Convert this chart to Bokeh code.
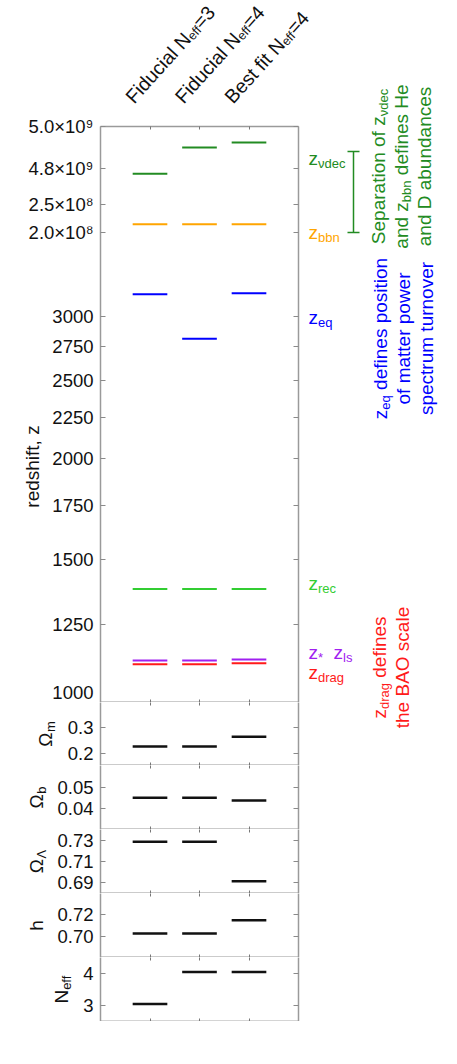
import numpy as np
from bokeh.plotting import figure
from bokeh.models import Range1d, LinearAxis, FixedTicker, Label, GridBox
from bokeh.layouts import column
from bokeh.embed import file_html
from bokeh.resources import INLINE

# ---------------- data ----------------
run_prefix = ["Fiducial N", "Fiducial N", "Best fit N"]
run_sub = ["eff", "eff", "eff"]
run_suffix = ["=3", "=4", "=4"]
x_run = [1, 2, 3]

z_nudec = [4.775e9, 4.90e9, 4.924e9]
z_bbn = [2.148e8, 2.148e8, 2.148e8]
z_eq = [3191, 2812, 3200]
z_rec = [1381, 1381, 1381]
z_star = [1127, 1127, 1130]
z_drag = [1115, 1115, 1118]

omega_m = [0.226, 0.226, 0.265]
omega_b = [0.0450, 0.0450, 0.0437]
omega_l = [0.729, 0.729, 0.6915]
h_vals = [0.7025, 0.7025, 0.715]
neff_vals = [3.046, 4.046, 4.046]

z_ticks = [1000, 1250, 1500, 1750, 2000, 2250, 2500, 2750, 3000, 2.0e8, 2.5e8, 4.8e9, 5.0e9]
z_tick_labels = ["1000", "1250", "1500", "1750", "2000", "2250", "2500", "2750", "3000",
                 "2.0×10⁸", "2.5×10⁸", "4.8×10⁹", "5.0×10⁹"]
om_ticks, om_labels = [0.2, 0.3], ["0.2", "0.3"]
ob_ticks, ob_labels = [0.04, 0.05], ["0.04", "0.05"]
ol_ticks, ol_labels = [0.69, 0.71, 0.73], ["0.69", "0.71", "0.73"]
h_ticks, h_labels = [0.70, 0.72], ["0.70", "0.72"]
n_ticks, n_labels = [3, 4], ["3", "4"]

# ---------------- scale of the broken redshift axis ----------------
DEC = 810.0
LOG_TOP = 3300.0
BREAK_Z = [3300.0, 2.0e8, 2.5e8, 4.7e9, 4.8e9, 5.0e9]
BREAK_P = [DEC * np.log10(3.3), 470.0, 498.0, 513.0, 534.0, 576.0]


def zpos(z):
    z = np.asarray(z, dtype=float)
    return np.where(z <= LOG_TOP, DEC * np.log10(np.minimum(z, LOG_TOP) / 1000.0),
                    np.interp(z, BREAK_Z, BREAK_P))


# ---------------- style ----------------
FONT = "Liberation Sans"
TICK_FS = "18.5px"
DKGREEN = "#228B22"
ORANGE = "#FFA500"
BLUE = "#0000FF"
LGREEN = "#32CD32"
PURPLE = "#A020F0"
RED = "#FF1A1A"
BLACK = "#111111"

FW = 198
LB = 100
RB = 8
XPX = FW / 4.0
FRAME_LEFT = LB
MAIN_TOP = 126
MAIN_H = 576
PANEL_H = [63, 64, 64, 64, 64]
PAGE_W, PAGE_H = 457, 1040

CW = {' ': 278, 'a': 556, 'b': 556, 'c': 500, 'd': 556, 'e': 556, 'f': 278, 'g': 556, 'h': 556,
      'i': 222, 'j': 222, 'k': 500, 'l': 222, 'm': 833, 'n': 556, 'o': 556, 'p': 556, 'q': 556,
      'r': 333, 's': 500, 't': 278, 'u': 556, 'v': 500, 'w': 722, 'x': 500, 'y': 500, 'z': 500,
      'A': 667, 'B': 667, 'C': 722, 'D': 722, 'E': 667, 'F': 611, 'H': 722, 'N': 722, 'O': 778,
      'S': 667, 'Ω': 768, 'Λ': 667, 'ν': 500, '*': 389, '=': 584, ',': 278, '.': 278}


def tw(s, size):
    return sum(CW.get(c, 556) for c in s) * size / 1000.0


def rich(p, segs, px, py, angle_deg, align, color):
    """Text made of pieces (for subscripts), placed in page pixel coordinates."""
    th = np.radians(angle_deg)
    d = np.array([np.cos(th), -np.sin(th)])
    up = np.array([-np.sin(th), -np.cos(th)])
    total = sum(tw(t, s) for t, s, r in segs)
    off = {"left": 0.0, "center": -total / 2.0, "right": -total}[align]
    for t, s, r in segs:
        lead = len(t) - len(t.lstrip(' '))
        off += lead * CW[' '] * s / 1000.0
        t2 = t.lstrip(' ')
        pt = np.array([px, py], dtype=float) + off * d + r * up
        p.add_layout(Label(x=float(pt[0]), y=float(pt[1]), text=t2, angle=float(th), angle_units="rad",
                           text_align="left", text_baseline="alphabetic",
                           text_font_size=f"{s}px", text_font=FONT, text_color=color))
        off += tw(t2, s)


def base_fig(ymin, ymax, fh, top_border=0):
    p = figure(frame_width=FW, frame_height=fh, x_range=Range1d(0, 4), y_range=Range1d(ymin, ymax),
               output_backend="svg", toolbar_location=None, min_border_left=LB,
               min_border_right=RB, min_border_top=top_border, min_border_bottom=0,
               x_axis_location=None, y_axis_location=None)
    p.outline_line_color = None
    p.xgrid.visible = False
    p.ygrid.visible = False
    return p


def yaxes(p, ticks, labels):
    ticks = [float(round(t, 4)) for t in ticks]
    left = LinearAxis(ticker=FixedTicker(ticks=ticks), major_label_overrides=dict(zip(ticks, labels)))
    right = LinearAxis(ticker=FixedTicker(ticks=ticks), major_label_overrides={t: "" for t in ticks})
    for ax, st in ((left, 7), (right, 0)):
        ax.axis_line_color = "#9a9a9a"
        ax.axis_line_width = 1.5
        ax.major_tick_in = 5
        ax.major_tick_out = 0
        ax.major_tick_line_color = "#8a8a8a"
        ax.minor_tick_line_color = None
        ax.major_label_standoff = st
        ax.major_label_text_font = FONT
        ax.major_label_text_color = "#111111"
    left.major_label_text_font_size = TICK_FS
    right.major_label_text_font_size = "0px"
    p.add_layout(left, "left")
    p.add_layout(right, "right")


def xaxes(p, top_color, bottom_color):
    for side, col in (("above", top_color), ("below", bottom_color)):
        ax = LinearAxis(ticker=FixedTicker(ticks=x_run), major_label_overrides={i: "" for i in x_run})
        ax.axis_line_color = col
        ax.axis_line_width = 1.5
        ax.major_tick_in = 3
        ax.major_tick_out = 0
        ax.major_tick_line_color = "#777777"
        ax.minor_tick_line_color = None
        ax.major_label_standoff = 0
        ax.major_label_text_font_size = "0px"
        p.add_layout(ax, side)


def bars(p, vals, color, lw):
    x = np.asarray(x_run, dtype=float)
    y = np.asarray(vals, dtype=float)
    p.segment(x0=x - 0.35, x1=x + 0.35, y0=y, y1=y, line_color=color, line_width=lw)


# ---------------- main redshift panel ----------------
main = base_fig(0, MAIN_H, MAIN_H, top_border=MAIN_TOP)
zt = [float(round(v, 3)) for v in zpos(z_ticks)]
yaxes(main, zt, z_tick_labels)
xaxes(main, "#9a9a9a", "#333333")
bars(main, zpos(z_nudec), DKGREEN, 2)
bars(main, zpos(z_bbn), ORANGE, 2)
bars(main, zpos(z_eq), BLUE, 2)
bars(main, zpos(z_rec), LGREEN, 2)
bars(main, zpos(z_drag), RED, 2)
bars(main, zpos(z_star), PURPLE, 2)

# ---------------- parameter panels ----------------
panel_specs = [
    (omega_m, (0.151, 0.40), om_ticks, om_labels, [("Ω", 19, 0), ("m", 13, -5)], 45),
    (omega_b, (0.02985, 0.06033), ob_ticks, ob_labels, [("Ω", 19, 0), ("b", 13, -5)], 36),
    (omega_l, (0.67981, 0.74076), ol_ticks, ol_labels, [("Ω", 19, 0), ("Λ", 13, -5)], 36),
    (h_vals, (0.6801, 0.7399), h_ticks, h_labels, [("h", 19, 0)], 36),
    (neff_vals, (2.5, 4.5), n_ticks, n_labels, [("N", 19, 0), ("eff", 13, -5)], 61),
]
panels = []
panel_labels = []
top = MAIN_TOP + MAIN_H
for i, ((vals, (lo, hi), tks, tls, lab, lx), fh) in enumerate(zip(panel_specs, PANEL_H)):
    p = base_fig(lo, hi, fh)
    yaxes(p, tks, tls)
    xaxes(p, None, "#333333" if i < 4 else "#555555")
    bars(p, vals, BLACK, 2.5)
    panels.append(p)
    panel_labels.append((lab, lx, top + fh / 2.0))
    top += fh

base = column([main] + panels, spacing=0)

# ---------------- overlay with all the annotation texts (page pixels) ----------------
ov = figure(width=PAGE_W, height=PAGE_H, x_range=Range1d(0, PAGE_W), y_range=Range1d(PAGE_H, 0),
            output_backend="svg", toolbar_location=None, min_border=0,
            x_axis_location=None, y_axis_location=None,
            background_fill_color=None, border_fill_color=None)
ov.outline_line_color = None
ov.xgrid.visible = False
ov.ygrid.visible = False

# column titles
for xi, pre, sub, suf in zip(x_run, run_prefix, run_sub, run_suffix):
    sx = FRAME_LEFT + XPX * xi - 21
    rich(ov, [(pre, 19.5, 0), (sub, 12.5, -4), (suf, 19.5, 0)], sx, 99.5, 48, "left", "#111111")

# y-axis titles
rich(ov, [("redshift, z", 19, 0)], 32, 466, 90, "center", "#111111")
for lab, lx, cy in panel_labels:
    rich(ov, lab, lx, cy, 90, "center", "#111111")

# line labels
rich(ov, [("z", 19, 0), ("νdec", 13, -5)], 308, 158, 0, "left", DKGREEN)
rich(ov, [("z", 19, 0), ("bbn", 13, -5)], 308, 232, 0, "left", ORANGE)
rich(ov, [("z", 19, 0), ("eq", 13, -5)], 308, 317, 0, "left", BLUE)
rich(ov, [("z", 19, 0), ("rec", 13, -5)], 308, 583, 0, "left", LGREEN)
rich(ov, [("z", 19, 0), ("*", 13, -5)], 308, 652, 0, "left", PURPLE)
rich(ov, [("z", 19, 0), ("ls", 13, -5)], 333, 652, 0, "left", PURPLE)
rich(ov, [("z", 19, 0), ("drag", 13, -5)], 308, 672, 0, "left", RED)

# bracket between z_nudec and z_bbn
ov.segment(x0=[353, 347, 347], y0=[151, 151, 232], x1=[353, 359, 359], y1=[232, 151, 232],
           line_color=DKGREEN, line_width=1.5)

# explanatory notes
rich(ov, [("Separation of z", 19, 0), ("νdec", 13, -5)], 378, 166, 90, "center", DKGREEN)
rich(ov, [("and z", 19, 0), ("bbn", 13, -5), (" defines He", 19, 0)], 401, 166, 90, "center", DKGREEN)
rich(ov, [("and D abundances", 19, 0)], 424, 166, 90, "center", DKGREEN)

rich(ov, [("z", 19, 0), ("eq", 13, -5), (" defines position", 19, 0)], 380, 338, 90, "center", BLUE)
rich(ov, [("of matter power", 19, 0)], 403, 338, 90, "center", BLUE)
rich(ov, [("spectrum turnover", 19, 0)], 426, 338, 90, "center", BLUE)

rich(ov, [("z", 19, 0), ("drag", 13, -5), (" defines", 19, 0)], 379, 667, 90, "center", RED)
rich(ov, [("the BAO scale", 19, 0)], 402, 667, 90, "center", RED)

layout = GridBox(children=[(base, 0, 0), (ov, 0, 0)])

open("out.html", "w").write(file_html(layout, INLINE))
